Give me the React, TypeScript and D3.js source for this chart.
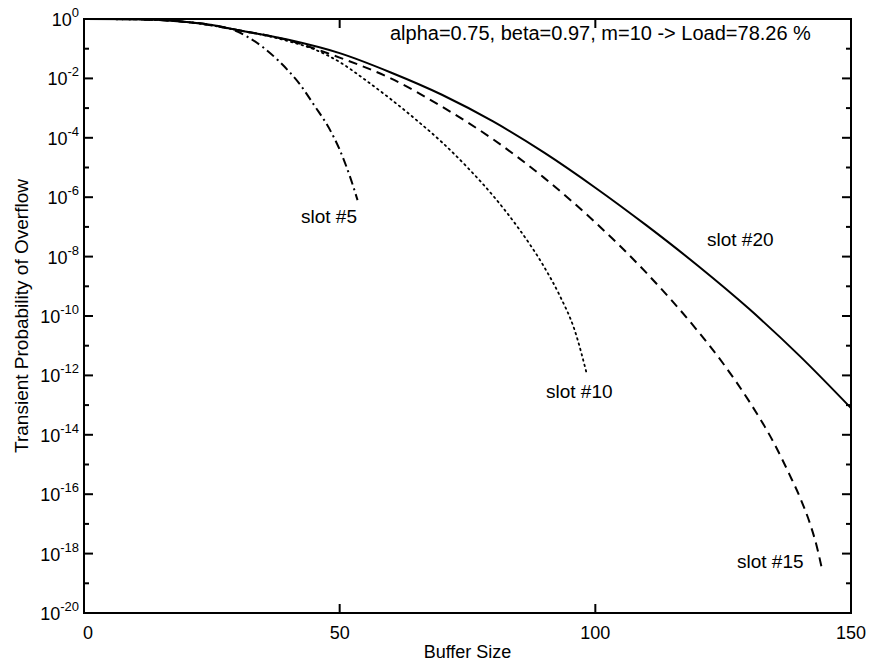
import React, { useRef, useEffect } from "react";
import * as d3 from "d3";

// buffer sizes and log10 of overflow probability
const slot5X = [0, 10, 20, 25, 28, 30, 32, 35, 38, 40, 42, 45, 48, 50, 52, 53.5];
const slot5Log = [0, -0.01, -0.1, -0.2, -0.3, -0.42, -0.6, -0.95, -1.4, -1.75, -2.15, -2.9, -3.7, -4.4, -5.3, -6.1];

const slot10X = [0, 10, 20, 30, 40, 45, 50, 55, 60, 65, 70, 75, 80, 85, 90, 93, 96, 98.4];
const slot10Log = [0, -0.01, -0.1, -0.37, -0.75, -1.02, -1.45, -2.05, -2.7, -3.4, -4.15, -5.0, -5.95, -7.05, -8.35, -9.3, -10.5, -12.0];

const slot15X = [0, 10, 20, 30, 40, 50, 60, 70, 80, 90, 100, 110, 120, 125, 130, 135, 138, 140, 142, 143.3, 144.3];
const slot15Log = [0, -0.01, -0.1, -0.37, -0.72, -1.3, -2.0, -2.95, -4.05, -5.35, -6.85, -8.55, -10.5, -11.6, -12.85, -14.3, -15.35, -16.1, -17.0, -17.75, -18.5];

const slot20X = [0, 10, 20, 25, 30, 40, 50, 60, 70, 80, 90, 100, 110, 120, 130, 140, 150];
const slot20Log = [0, -0.01, -0.1, -0.2, -0.37, -0.7, -1.15, -1.8, -2.55, -3.45, -4.5, -5.68, -6.95, -8.3, -9.75, -11.35, -13.1];

const xTicks = [0, 50, 100, 150];
const yMajorExp = [0, -2, -4, -6, -8, -10, -12, -14, -16, -18, -20];
const yMinorExp = [-1, -3, -5, -7, -9, -11, -13, -15, -17, -19];

const series = [
  { name: "slot #5", xs: slot5X, ys: slot5Log, dash: "9,4,2,4", label: [301, 223] },
  { name: "slot #10", xs: slot10X, ys: slot10Log, dash: "1.5,4", label: [546, 398] },
  { name: "slot #15", xs: slot15X, ys: slot15Log, dash: "9,6", label: [737, 568] },
  { name: "slot #20", xs: slot20X, ys: slot20Log, dash: null, label: [707, 246] },
];

const App = () => {
  const svgRef = useRef();

  useEffect(() => {
    const svg = d3.select(svgRef.current);
    svg.selectAll("*").remove();

    const width = 877;
    const height = 665;
    const left = 84, right = 851, top = 19, bottom = 613;
    const font = "'Liberation Sans', Arial, sans-serif";

    const x = d3.scaleLinear().domain([0, 150]).range([left, right]);
    const y = d3.scaleLog().domain([1e-20, 1]).range([bottom, top]);

    svg.attr("width", width).attr("height", height);
    svg.append("rect").attr("width", width).attr("height", height).attr("fill", "#fff");

    // curves
    const line = d3
      .line()
      .x((d) => x(d[0]))
      .y((d) => y(Math.pow(10, d[1])))
      .curve(d3.curveMonotoneX);

    series.forEach((s) => {
      const pts = s.xs.map((v, i) => [v, s.ys[i]]);
      const dotted = s.dash === "1.5,4";
      svg
        .append("path")
        .attr("d", line(pts))
        .attr("fill", "none")
        .attr("stroke", "#000")
        .attr("stroke-width", dotted ? 1.8 : 2)
        .attr("stroke-dasharray", s.dash)
        .attr("stroke-linecap", dotted ? "round" : "butt");

      svg
        .append("text")
        .attr("x", s.label[0])
        .attr("y", s.label[1])
        .attr("font-family", font)
        .attr("font-size", 19)
        .text(s.name);
    });

    // frame
    svg
      .append("rect")
      .attr("x", left)
      .attr("y", top)
      .attr("width", right - left)
      .attr("height", bottom - top)
      .attr("fill", "none")
      .attr("stroke", "#000")
      .attr("stroke-width", 2);

    // ticks on all four sides, pointing inward
    const tickG = svg.append("g").attr("stroke", "#000").attr("stroke-width", 2);
    yMajorExp.forEach((e) => {
      const yy = y(Math.pow(10, e));
      tickG.append("line").attr("x1", left).attr("x2", left + 9).attr("y1", yy).attr("y2", yy);
      tickG.append("line").attr("x1", right).attr("x2", right - 9).attr("y1", yy).attr("y2", yy);
    });
    yMinorExp.forEach((e) => {
      const yy = y(Math.pow(10, e));
      tickG.append("line").attr("x1", left).attr("x2", left + 5).attr("y1", yy).attr("y2", yy);
      tickG.append("line").attr("x1", right).attr("x2", right - 5).attr("y1", yy).attr("y2", yy);
    });
    xTicks.forEach((t) => {
      const xx = x(t);
      tickG.append("line").attr("x1", xx).attr("x2", xx).attr("y1", bottom).attr("y2", bottom - 9);
      tickG.append("line").attr("x1", xx).attr("x2", xx).attr("y1", top).attr("y2", top + 9);
    });

    // y tick labels: 10 with superscript exponent
    yMajorExp.forEach((e) => {
      const yy = y(Math.pow(10, e));
      const t = svg
        .append("text")
        .attr("x", 79)
        .attr("y", yy + 7)
        .attr("text-anchor", "end")
        .attr("font-family", font)
        .attr("font-size", 18);
      t.append("tspan").text("10");
      t.append("tspan").attr("dy", -9).attr("font-size", 13).text(String(e));
    });

    // x tick labels
    svg
      .selectAll(".xl")
      .data(xTicks)
      .enter()
      .append("text")
      .attr("x", (d) => x(d) + (d === 0 ? 4 : 0))
      .attr("y", 639)
      .attr("text-anchor", "middle")
      .attr("font-family", font)
      .attr("font-size", 18)
      .text((d) => d);

    // axis titles
    svg
      .append("text")
      .attr("x", (left + right) / 2)
      .attr("y", 658)
      .attr("text-anchor", "middle")
      .attr("font-family", font)
      .attr("font-size", 18)
      .text("Buffer Size");

    svg
      .append("text")
      .attr("transform", `translate(28, ${(top + bottom) / 2}) rotate(-90)`)
      .attr("text-anchor", "middle")
      .attr("font-family", font)
      .attr("font-size", 19)
      .text("Transient Probability of Overflow");

    svg
      .append("text")
      .attr("x", 390)
      .attr("y", 40)
      .attr("font-family", font)
      .attr("font-size", 20)
      .text("alpha=0.75, beta=0.97, m=10 -> Load=78.26 %");
  }, []);

  return (
    <div style={{ position: "absolute", left: 0, top: 0 }}>
      <svg ref={svgRef}></svg>
    </div>
  );
};

export default App;
